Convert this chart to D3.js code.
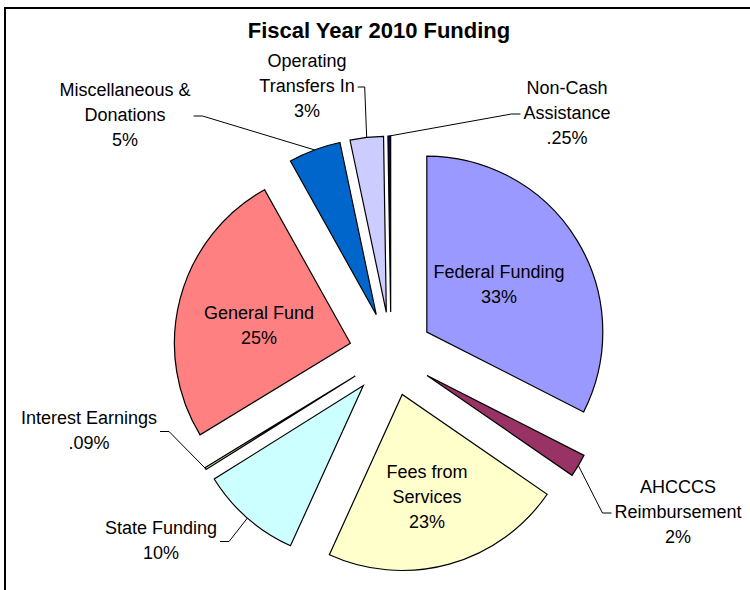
<!DOCTYPE html>
<html>
<head>
<meta charset="utf-8">
<script src="https://cdn.jsdelivr.net/npm/d3@7"></script>
<style>
  body { margin: 0; background: #fff; }
  text { font-family: "Liberation Sans", Arial, sans-serif; fill: #000; }
</style>
</head>
<body>
<div id="chart"></div>
<script>
// Define SVG area dimensions
var svgWidth = 750;
var svgHeight = 590;

// Chart data, clockwise from 12 o'clock
var categories = ["Federal Funding", "AHCCCS Reimbursement", "Fees from Services", "State Funding",
    "Interest Earnings", "General Fund", "Miscellaneous & Donations", "Operating Transfers In", "Non-Cash Assistance"];
var shares = [32.5, 2.1, 22.2, 9.3, 0.2, 25.6, 4.8, 3.06, 0.25];
var percentLabels = ["33%", "2%", "23%", "10%", ".09%", "25%", "5%", "3%", ".25%"];
var labelLines = [
    ["Federal Funding"], ["AHCCCS", "Reimbursement"], ["Fees from", "Services"], ["State Funding"],
    ["Interest Earnings"], ["General Fund"], ["Miscellaneous &", "Donations"], ["Operating", "Transfers In"],
    ["Non-Cash", "Assistance"]
];
var colors = ["#9999ff", "#993366", "#ffffcc", "#ccffff", "#c0e4b0", "#ff8080", "#0066cc", "#ccccff", "#000080"];

// Pie geometry
var center = [391, 354];
var radius = 176;
var explode = 42;
var fontSize = 18;
var lineHeight = 25;

// Label layout: x centre, first baseline, leader side (null = inside label)
var labelLayout = [
    { x: 499, y: 278, side: null },
    { x: 678, y: 493, side: "left" },
    { x: 427, y: 478, side: null },
    { x: 161, y: 534, side: "right" },
    { x: 89, y: 424, side: "right" },
    { x: 259, y: 319, side: null },
    { x: 125, y: 96, side: "right" },
    { x: 307, y: 67, side: "right", vertical: true },
    { x: 567, y: 94, side: "left" }
];

var svg = d3.select("#chart")
    .append("svg")
    .attr("width", svgWidth)
    .attr("height", svgHeight);

// Chart frame (right and bottom edges fall outside the picture)
svg.append("rect")
    .attr("x", 5)
    .attr("y", 8)
    .attr("width", 800)
    .attr("height", 800)
    .attr("fill", "none")
    .attr("stroke", "#000")
    .attr("stroke-width", 2);

// Title
svg.append("text")
    .attr("x", 379)
    .attr("y", 38)
    .attr("text-anchor", "middle")
    .style("font-size", "22px")
    .style("font-weight", "bold")
    .text("Fiscal Year 2010 Funding");

var pie = d3.pie().sort(null).value(d => d);
var arcs = pie(shares);

var arc = d3.arc().innerRadius(0).outerRadius(radius);

function midAngle(d) { return (d.startAngle + d.endAngle) / 2; }
function offsetOf(d, dist) {
    var a = midAngle(d);
    return [center[0] + Math.sin(a) * dist, center[1] - Math.cos(a) * dist];
}

// Exploded slices
svg.append("g").selectAll("path")
    .data(arcs)
    .enter()
    .append("path")
    .attr("transform", d => `translate(${offsetOf(d, explode)})`)
    .attr("d", arc)
    .attr("fill", (d, i) => colors[i])
    .attr("stroke", "#000")
    .attr("stroke-width", 1.2)
    .attr("stroke-linejoin", "miter");

// Labels
var labelGroup = svg.append("g");
arcs.forEach(function (d, i) {
    var lay = labelLayout[i];
    var lines = labelLines[i].concat([percentLabels[i]]);
    var t = labelGroup.append("text")
        .attr("text-anchor", "middle")
        .style("font-size", fontSize + "px");
    lines.forEach(function (line, j) {
        t.append("tspan")
            .attr("x", lay.x)
            .attr("y", lay.y + j * lineHeight)
            .text(line);
    });

    if (!lay.side) return;

    // Leader line from the label box edge to the slice's outer edge
    var boxW = d3.max(t.selectAll("tspan").nodes(), n => n.getComputedTextLength());
    var ly = lay.y + (lines.length - 1) * lineHeight / 2 - 5;
    var dir = lay.side === "right" ? 1 : -1;
    var x0 = lay.x + dir * (boxW / 2 + 3);
    var tip = offsetOf(d, explode + radius);
    var x1 = lay.vertical ? tip[0] - 2 : x0 + dir * 9;
    labelGroup.append("path")
        .attr("d", d3.line()([[x0, ly], [x1, ly], tip]))
        .attr("fill", "none")
        .attr("stroke", "#000")
        .attr("stroke-width", 1);
});
</script>
</body>
</html>
